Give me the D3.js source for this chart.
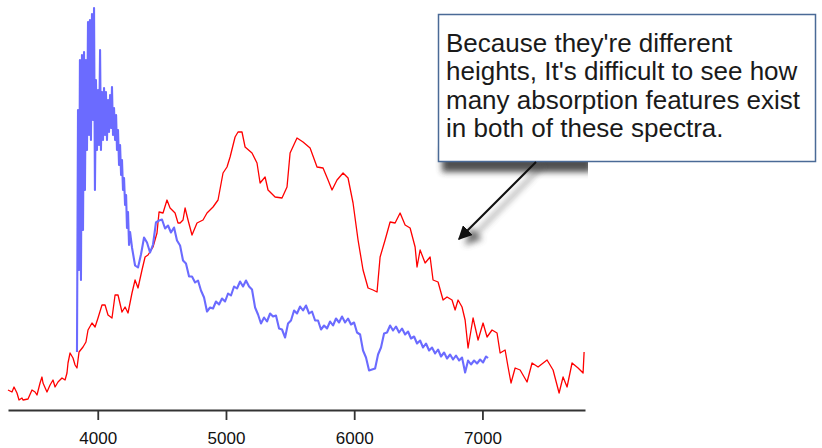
<!DOCTYPE html>
<html>
<head>
<meta charset="utf-8">
<script src="https://cdn.jsdelivr.net/npm/d3@7"></script>
<style>
  body { margin: 0; background: #fff; }
  svg { display: block; }
</style>
</head>
<body>
<script>
(function (d3) {
    "use strict";

    /***** Data *****/
    var tickValues = [4000, 5000, 6000, 7000];

    var redWavelength = [3300, 3331, 3347, 3370, 3386, 3409, 3417, 3456, 3487, 3511, 3526, 3550, 3565, 3573, 3604, 3628,
        3651, 3667, 3690, 3721, 3745, 3760, 3768, 3784, 3807, 3823, 3838, 3854, 3885, 3908, 3924, 3955, 3979, 4002, 4033,
        4057, 4080, 4111, 4135, 4158, 4189, 4213, 4236, 4267, 4291, 4314, 4345, 4369, 4392, 4431, 4462, 4478, 4509, 4540,
        4564, 4603, 4626, 4642, 4665, 4681, 4704, 4735, 4774, 4821, 4852, 4899, 4938, 4977, 5008, 5032, 5071, 5094, 5125,
        5149, 5203, 5242, 5266, 5305, 5328, 5383, 5437, 5476, 5500, 5554, 5601, 5656, 5710, 5757, 5796, 5827, 5866, 5913,
        5952, 5991, 6030, 6069, 6108, 6147, 6178, 6202, 6241, 6280, 6319, 6358, 6397, 6436, 6475, 6490, 6514, 6553, 6592,
        6615, 6654, 6693, 6724, 6763, 6787, 6810, 6841, 6865, 6888, 6927, 6966, 7005, 7036, 7075, 7114, 7138, 7177, 7200,
        7223, 7255, 7294, 7348, 7387, 7434, 7504, 7551, 7598, 7629, 7660, 7699, 7746, 7785, 7793];
    var redFlux = [38, 34, 44, 32, 18, 22, 18, 20, 38, 34, 28, 52, 64, 52, 34, 48,
        58, 44, 54, 62, 58, 72, 92, 112, 102, 88, 82, 114, 124, 134, 158, 172, 164, 182, 208,
        208, 188, 182, 228, 228, 194, 204, 192, 232, 258, 242, 278, 304, 308, 324, 352, 394, 392, 418,
        402, 392, 372, 372, 378, 402, 378, 348, 372, 378, 392, 404, 418, 472, 484, 504, 544, 554, 554,
        524, 512, 492, 452, 464, 438, 424, 422, 444, 512, 542, 534, 522, 484, 482, 458, 438, 458, 472,
        462, 412, 338, 278, 242, 238, 234, 304, 338, 374, 372, 392, 368, 362, 324, 284, 318, 292, 304,
        258, 254, 218, 224, 218, 198, 218, 204, 178, 122, 182, 138, 172, 144, 158, 152, 112, 118, 84,
        52, 82, 78, 54, 92, 84, 98, 78, 32, 64, 44, 92, 82, 72, 114];

    var blueWavelength = [3838, 3846, 3854, 3861, 3869, 3877, 3885, 3893, 3900, 3908, 3916, 3924, 3932, 3939, 3947,
        3955, 3963, 3971, 3978, 3986, 3994, 4002, 4010, 4018, 4025, 4033, 4041, 4049, 4057, 4064, 4072, 4080, 4088, 4096,
        4104, 4111, 4119, 4127, 4135, 4143, 4150, 4158, 4166, 4174, 4182, 4189, 4197, 4205, 4213, 4221, 4228, 4236, 4244,
        4252,
        4267, 4291, 4314, 4337, 4361, 4384, 4408, 4431, 4454, 4478, 4501, 4525, 4548, 4571, 4595, 4618, 4642, 4665, 4688,
        4712, 4735, 4759, 4782, 4805, 4829, 4852, 4876, 4899, 4922, 4946, 4969, 4993, 5016, 5039, 5063, 5086, 5110, 5133,
        5156, 5180, 5203, 5227, 5250, 5273, 5297, 5320, 5344, 5367, 5390, 5414, 5437, 5461, 5484, 5507, 5531, 5554, 5578,
        5601, 5624, 5648, 5671, 5695, 5718, 5741, 5765, 5788, 5812, 5835, 5858, 5882, 5905, 5929, 5952, 5975, 5999, 6022,
        6046, 6069, 6092, 6116, 6139, 6163, 6186, 6209, 6233, 6256, 6280, 6303, 6326, 6350, 6373, 6397, 6420, 6443, 6467,
        6490, 6514, 6537, 6560, 6584, 6607, 6631, 6654, 6677, 6701, 6724, 6748, 6771, 6794, 6818, 6841, 6865, 6888, 6911,
        6935, 6958, 6982, 7005, 7028, 7044];
    var blueFlux = [114, 598, 278, 698, 258, 708, 358, 714, 438, 698, 518, 774, 548, 778, 538,
        790, 578, 802, 438, 658, 518, 638, 528, 718, 518, 634, 538, 642, 548, 634, 538, 618, 554, 628,
        562, 644, 548, 602, 538, 588, 518, 558, 488, 528, 468, 498, 438, 462, 408, 428, 362, 394, 328,
        354,
        323, 287, 283, 309, 343, 333, 313, 329, 373, 377, 379, 361, 367, 353, 363, 337, 327, 297, 291,
        265, 265, 253, 257, 237, 223, 195, 203, 201, 215, 209, 221, 215, 231, 227, 245, 241, 255, 245,
        257, 245, 239, 203, 189, 171, 183, 175, 191, 185, 187, 161, 159, 143, 171, 177, 197, 191, 205,
        197, 207, 191, 195, 177, 177, 159, 167, 161, 175, 167, 181, 173, 185, 173, 181, 169, 173, 153,
        149, 117, 103, 77, 79, 81, 109, 123, 151, 153, 167, 157, 165, 153, 161, 149, 155, 141, 145,
        131, 137, 123, 131, 117, 123, 111, 119, 105, 113, 101, 109, 99, 107, 97, 103, 73, 97, 89,
        97, 91, 99, 93, 105, 102];

    var noteLines = [
        "Because they're different",
        "heights, It's difficult to see how",
        "many absorption features exist",
        "in both of these spectra."
    ];

    /***** Configuration *****/
    var width = 822;
    var height = 448;
    var axisY = 410;

    var xScale = d3.scaleLinear().domain([3300, 7800]).range([8, 585]);
    var yScale = d3.scaleLinear().domain([0, 800]).range([409, 9]);

    var svg = d3.select("body")
        .append("svg")
        .attr("width", width)
        .attr("height", height);

    var defs = svg.append("defs");
    defs.append("filter")
        .attr("id", "blur")
        .attr("x", "-20%").attr("y", "-50%")
        .attr("width", "140%").attr("height", "200%")
        .append("feGaussianBlur")
        .attr("stdDeviation", 3);
    defs.append("clipPath")
        .attr("id", "shadowClip")
        .append("rect")
        .attr("x", 430).attr("y", 140)
        .attr("width", 158).attr("height", 60);
    defs.append("marker")
        .attr("id", "head")
        .attr("viewBox", "0 0 10 10")
        .attr("refX", 9).attr("refY", 5)
        .attr("markerWidth", 7).attr("markerHeight", 7)
        .attr("markerUnits", "strokeWidth")
        .attr("orient", "auto")
        .append("path")
        .attr("d", "M0,0L10,5L0,10Z")
        .attr("fill", "#111");
    defs.append("marker")
        .attr("id", "headShadow")
        .attr("viewBox", "0 0 10 10")
        .attr("refX", 9).attr("refY", 5)
        .attr("markerWidth", 7).attr("markerHeight", 7)
        .attr("markerUnits", "strokeWidth")
        .attr("orient", "auto")
        .append("path")
        .attr("d", "M0,0L10,5L0,10Z")
        .attr("fill", "#555");

    /***** Spectra *****/
    var line = d3.line()
        .x(function (d) { return xScale(d[0]); })
        .y(function (d) { return yScale(d[1]); });

    var redData = d3.zip(redWavelength, redFlux);
    var blueData = d3.zip(blueWavelength, blueFlux);

    svg.append("path")
        .datum(redData)
        .attr("d", line)
        .attr("fill", "none")
        .attr("stroke", "#ff0000")
        .attr("stroke-width", 1.3)
        .attr("stroke-linejoin", "round");

    svg.append("path")
        .datum(blueData)
        .attr("d", line)
        .attr("fill", "none")
        .attr("stroke", "#6b6bff")
        .attr("stroke-width", 2.1)
        .attr("stroke-linejoin", "round");

    /***** Axis *****/
    var xAxis = d3.axisBottom(xScale)
        .tickValues(tickValues)
        .tickFormat(d3.format("d"))
        .tickSize(10)
        .tickSizeOuter(0)
        .tickPadding(12);

    var axisG = svg.append("g")
        .attr("transform", "translate(0," + axisY + ")")
        .call(xAxis);
    axisG.select(".domain").attr("stroke", "#333").attr("stroke-width", 1.8);
    axisG.selectAll(".tick line").attr("stroke", "#333").attr("stroke-width", 1.8);
    axisG.selectAll(".tick text")
        .attr("fill", "#111")
        .style("font-family", "'Liberation Sans', Arial, sans-serif")
        .style("font-size", "17px");

    /***** Annotation *****/
    var note = svg.append("g");

    note.append("rect")
        .attr("x", 442).attr("y", 148)
        .attr("width", 150).attr("height", 24)
        .attr("fill", "#333")
        .attr("opacity", 0.85)
        .attr("clip-path", "url(#shadowClip)")
        .attr("filter", "url(#blur)");

    note.append("line")
        .attr("x1", 542).attr("y1", 166)
        .attr("x2", 466).attr("y2", 244)
        .attr("stroke", "#555")
        .attr("stroke-width", 2.4)
        .attr("opacity", 0.85)
        .attr("filter", "url(#blur)")
        .attr("marker-end", "url(#headShadow)");

    note.append("rect")
        .attr("x", 438.5).attr("y", 14.5)
        .attr("width", 377).attr("height", 147)
        .attr("fill", "#fff")
        .attr("stroke", "#4a6a96")
        .attr("stroke-width", 1.5);

    note.append("line")
        .attr("x1", 536).attr("y1", 162)
        .attr("x2", 459).attr("y2", 239)
        .attr("stroke", "#111")
        .attr("stroke-width", 2)
        .attr("marker-end", "url(#head)");

    note.append("g")
        .selectAll("text")
        .data(noteLines)
        .join("text")
        .attr("x", 446)
        .attr("y", function (d, i) { return 52 + i * 28.3; })
        .attr("fill", "#1a1a1a")
        .style("font-family", "'Liberation Sans', Arial, sans-serif")
        .style("font-size", "26px")
        .text(function (d) { return d; });

})(d3);
</script>
</body>
</html>
